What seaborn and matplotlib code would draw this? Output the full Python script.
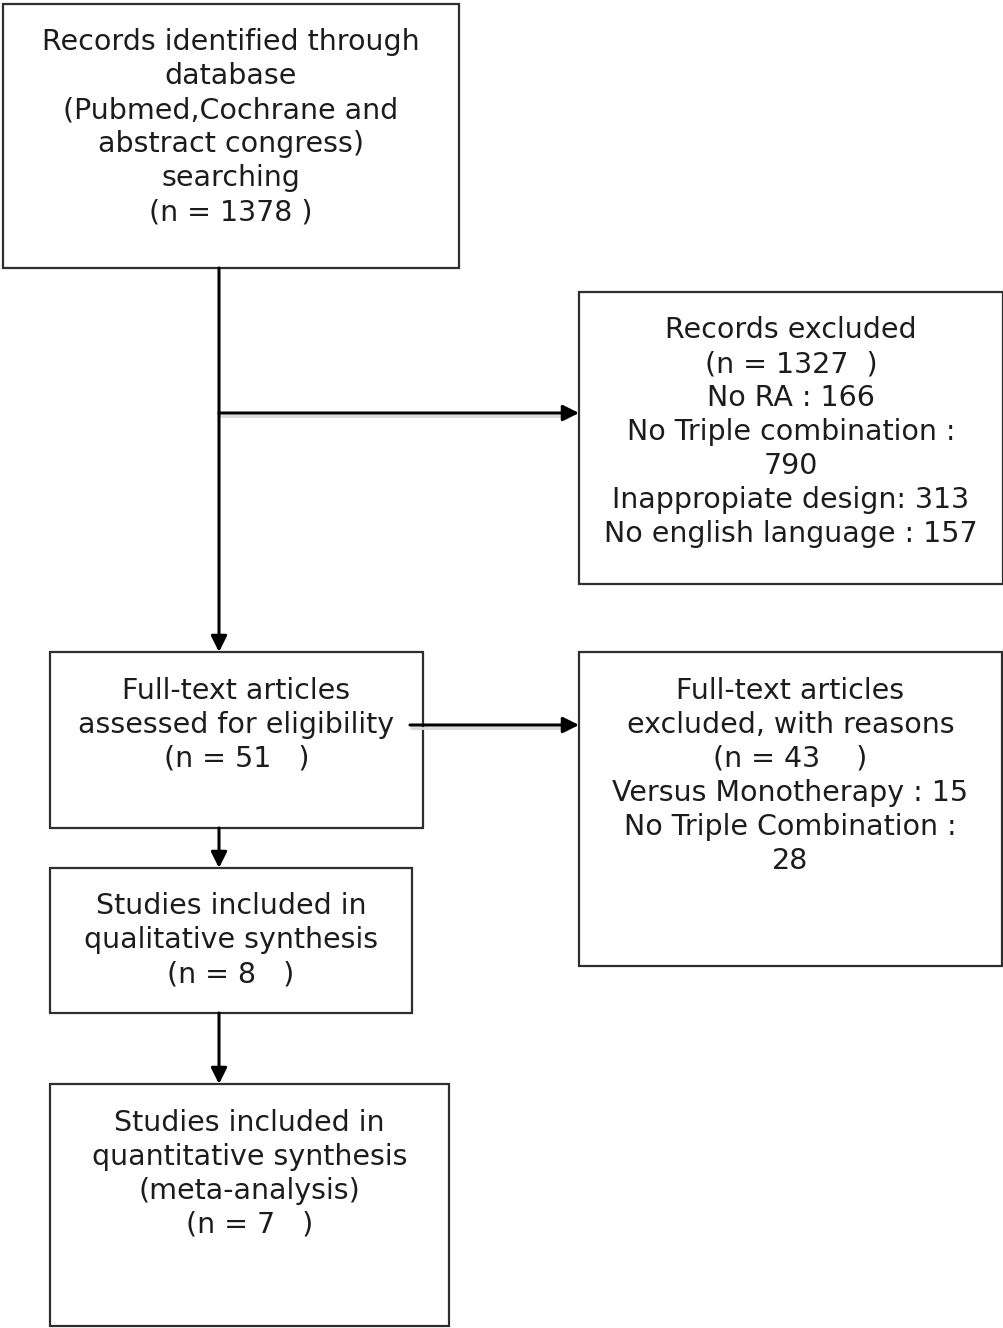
import matplotlib
matplotlib.use("Agg")
import matplotlib.pyplot as plt
from matplotlib.patches import Rectangle
import seaborn as sns

# Treści bloków diagramu PRISMA
identified_lines = ["Records identified through", "database", "(Pubmed,Cochrane and",
                    "abstract congress)", "searching", "(n = 1378 )"]
excluded_lines = ["Records excluded", "(n = 1327  )", "No RA : 166", "No Triple combination :",
                  "790", "Inappropiate design: 313", "No english language : 157"]
assessed_lines = ["Full-text articles", "assessed for eligibility", "(n = 51   )"]
fulltext_excl_lines = ["Full-text articles", "excluded, with reasons", "(n = 43    )",
                       "Versus Monotherapy : 15", "No Triple Combination :", "28"]
qualitative_lines = ["Studies included in", "qualitative synthesis", "(n = 8   )"]
quantitative_lines = ["Studies included in", "quantitative synthesis", "(meta-analysis)",
                      "(n = 7   )"]

# Układ (piksele): x0, y0, x1, y1, y pierwszej linii tekstu
boxes = [
    (identified_lines, (3, 4, 459, 268, 42)),
    (excluded_lines, (579, 292, 1003, 584, 330)),
    (assessed_lines, (50, 652, 423, 828, 691)),
    (fulltext_excl_lines, (579, 652, 1002, 966, 691)),
    (qualitative_lines, (50, 868, 412, 1013, 906)),
    (quantitative_lines, (50, 1084, 449, 1326, 1123)),
]
line_step = 34

sns.set_theme(style="white")
plt.rcParams['font.family'] = ['DejaVu Sans']

fig = plt.figure(figsize=(10.04, 13.28), dpi=100)
ax = fig.add_axes([0, 0, 1, 1])
ax.set_xlim(0, 1004)
ax.set_ylim(1328, 0)
ax.axis("off")

text_color = "#1c1c1c"
for lines, (x0, y0, x1, y1, ty) in boxes:
    ax.add_patch(Rectangle((x0, y0), x1 - x0, y1 - y0, fill=False,
                           edgecolor="#2e2e2e", linewidth=1.6))
    cx = (x0 + x1) / 2
    for i, line in enumerate(lines):
        ax.text(cx, ty + i * line_step, line, ha="center", va="center",
                fontsize=20.5, color=text_color)


def arrow(x0, y0, x1, y1, shadow=False):
    if shadow:
        ax.plot([x0, x1 - 12], [y0 + 3, y1 + 3], color="#dadada", linewidth=2.0,
                solid_capstyle="butt", zorder=2)
    ax.annotate("", xy=(x1, y1), xytext=(x0, y0),
                arrowprops=dict(arrowstyle="-|>", color="black", lw=2.2,
                                mutation_scale=24, shrinkA=0, shrinkB=0),
                zorder=3)


# Strzałki łączące bloki
arrow(219, 268, 219, 652)
arrow(219, 413, 579, 413, shadow=True)
arrow(410, 725, 579, 725, shadow=True)
arrow(219, 828, 219, 868)
arrow(219, 1013, 219, 1084)

fig.savefig("out.png", dpi=100, facecolor="white")
